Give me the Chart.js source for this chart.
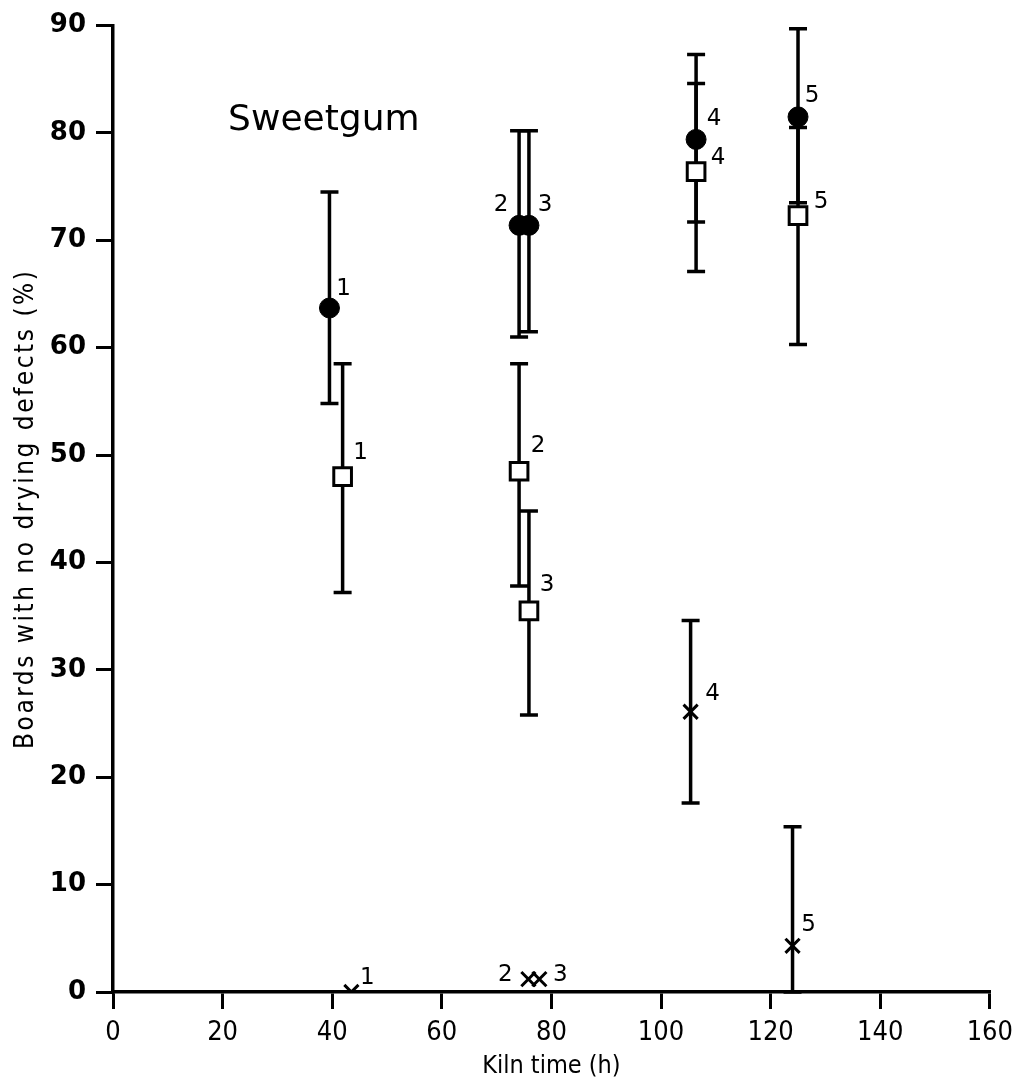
<!DOCTYPE html>
<html>
<head>
<meta charset="utf-8">
<script src="https://cdn.jsdelivr.net/npm/chart.js@4.4.0/dist/chart.umd.min.js"></script>
<style>
  body { margin: 0; background: #fff; }
  canvas { display: block; }
</style>
</head>
<body>
<canvas id="chart" width="1021" height="1089"></canvas>
<script>
// kiln schedules 1-5
const scheduleLabels = ["1", "2", "3", "4", "5"];

// filled circles
const circleHours = [39.5, 74.1, 75.9, 106.4, 125.0];
const circleMean = [63.7, 71.4, 71.4, 79.4, 81.5];
const circleLow = [54.8, 61.0, 61.5, 71.7, 73.5];
const circleHigh = [74.5, 80.2, 80.2, 87.3, 89.7];

// open squares
const squareHours = [41.9, 74.1, 75.9, 106.4, 125.0];
const squareMean = [48.0, 48.5, 35.5, 76.4, 72.3];
const squareLow = [37.2, 37.8, 25.8, 67.1, 60.3];
const squareHigh = [58.5, 58.5, 44.8, 84.6, 80.5];

// crosses
const crossHours = [43.5, 75.8, 77.8, 105.4, 124.0];
const crossMean = [0, 1.2, 1.2, 26.1, 4.3];
const crossLow = [null, null, null, 17.6, 0];
const crossHigh = [null, null, null, 34.6, 15.4];

const xTicks = [0, 20, 40, 60, 80, 100, 120, 140, 160];
const yTicks = [0, 10, 20, 30, 40, 50, 60, 70, 80, 90];

// where each number sits next to its marker (px)
const circleLabelOffset = [[14, -19], [-18, -20], [16, -20], [18, -20], [14, -21]];
const squareLabelOffset = [[18, -24], [19, -25], [18, -26], [22, -14], [23, -14]];
const crossLabelOffset = [[16, -14], [-23, -4], [21, -4], [22, -18], [16, -21]];

function pts(xs, ys) {
  return xs.map((x, i) => ({ x: x, y: ys[i] }));
}

const errorBars = {
  id: "errorBars",
  beforeDatasetsDraw(chart) {
    const { ctx, scales: { x, y } } = chart;
    ctx.save();
    ctx.strokeStyle = "#000";
    ctx.lineWidth = 3.5;
    ctx.lineCap = "butt";
    chart.data.datasets.forEach(ds => {
      ds.errLow.forEach((lo, i) => {
        if (lo == null) return;
        const px = x.getPixelForValue(ds.data[i].x);
        const top = y.getPixelForValue(ds.errHigh[i]);
        const bot = y.getPixelForValue(lo);
        ctx.beginPath();
        ctx.moveTo(px, top);
        ctx.lineTo(px, bot);
        ctx.moveTo(px - 9, top);
        ctx.lineTo(px + 9, top);
        ctx.moveTo(px - 9, bot);
        ctx.lineTo(px + 9, bot);
        ctx.stroke();
      });
    });
    ctx.restore();
  }
};

const textBits = {
  id: "textBits",
  afterDatasetsDraw(chart) {
    const { ctx, scales: { x, y } } = chart;
    ctx.save();
    ctx.fillStyle = "#000";
    ctx.font = "23px 'DejaVu Sans'";
    ctx.textAlign = "center";
    ctx.textBaseline = "middle";
    chart.data.datasets.forEach(ds => {
      ds.data.forEach((p, i) => {
        const off = ds.labelOffset[i];
        ctx.fillText(scheduleLabels[i], x.getPixelForValue(p.x) + off[0], y.getPixelForValue(p.y) + off[1]);
      });
    });
    // panel name
    ctx.font = "36px 'DejaVu Sans'";
    ctx.textAlign = "left";
    ctx.textBaseline = "alphabetic";
    ctx.fillText("Sweetgum", x.getPixelForValue(21.0), y.getPixelForValue(80.3));
    // y axis title, spaced out like the original lettering
    ctx.translate(24, (chart.chartArea.top + chart.chartArea.bottom) / 2);
    ctx.rotate(-Math.PI / 2);
    ctx.font = "26px 'DejaVu Sans Condensed', 'DejaVu Sans'";
    ctx.letterSpacing = "2.5px";
    ctx.textAlign = "center";
    ctx.fillText("Boards with no drying defects (%)", 0, 9);
    ctx.restore();
  }
};

new Chart(document.getElementById("chart"), {
  type: "scatter",
  data: {
    datasets: [
      {
        label: "circles",
        data: pts(circleHours, circleMean),
        errLow: circleLow,
        errHigh: circleHigh,
        labelOffset: circleLabelOffset,
        pointStyle: "circle",
        pointRadius: 10,
        backgroundColor: "#000",
        borderColor: "#000",
        borderWidth: 1
      },
      {
        label: "squares",
        data: pts(squareHours, squareMean),
        errLow: squareLow,
        errHigh: squareHigh,
        labelOffset: squareLabelOffset,
        pointStyle: "rect",
        pointRadius: 12.5,
        backgroundColor: "#fff",
        borderColor: "#000",
        borderWidth: 3
      },
      {
        label: "crosses",
        data: pts(crossHours, crossMean),
        errLow: crossLow,
        errHigh: crossHigh,
        labelOffset: crossLabelOffset,
        pointStyle: "crossRot",
        pointRadius: 10,
        backgroundColor: "#000",
        borderColor: "#000",
        borderWidth: 3
      }
    ]
  },
  options: {
    responsive: false,
    animation: false,
    layout: { padding: { left: 0, top: 18, right: 20, bottom: 0 } },
    plugins: {
      legend: { display: false },
      tooltip: { enabled: false }
    },
    scales: {
      x: {
        type: "linear",
        min: 0,
        max: 160,
        afterBuildTicks: s => { s.ticks = xTicks.map(v => ({ value: v })); },
        afterFit: s => { s.height = 97; },
        border: { display: true, color: "#000", width: 3.5 },
        grid: { drawOnChartArea: false, drawTicks: true, tickLength: 17, color: "#000", lineWidth: 3 },
        ticks: {
          color: "#000",
          padding: 8,
          maxRotation: 0,
          font: { family: "'Liberation Sans Narrow', 'DejaVu Sans Condensed', sans-serif", size: 27 }
        },
        title: {
          display: true,
          text: "Kiln time (h)",
          color: "#000",
          padding: { top: 0, bottom: 8 },
          font: { family: "'Liberation Sans Narrow', 'DejaVu Sans Condensed', sans-serif", size: 25 }
        }
      },
      y: {
        type: "linear",
        min: 0,
        max: 90,
        afterBuildTicks: s => { s.ticks = yTicks.map(v => ({ value: v })); },
        afterFit: s => { s.width = 113; },
        border: { display: true, color: "#000", width: 3.5 },
        grid: { drawOnChartArea: false, drawTicks: true, tickLength: 17, color: "#000", lineWidth: 3 },
        ticks: {
          color: "#000",
          padding: 10,
          font: { family: "'DejaVu Sans'", size: 26, weight: "bold" }
        },
        title: { display: false }
      }
    }
  },
  plugins: [errorBars, textBits]
});
</script>
</body>
</html>
